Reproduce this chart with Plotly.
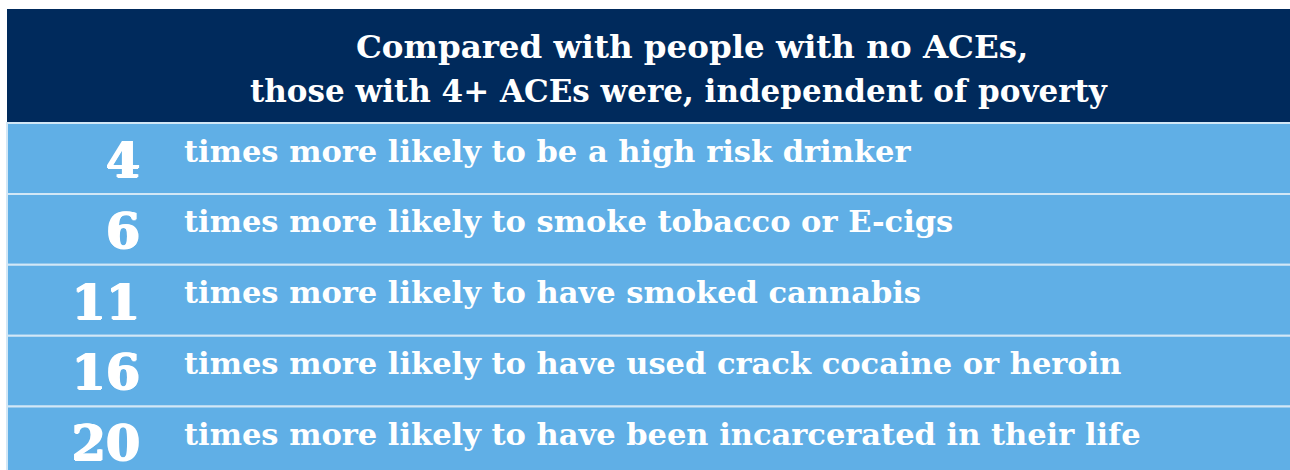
import plotly.graph_objects as go

# ---- data ----
multipliers = ["4", "6", "11", "16", "20"]
outcomes = [
    "times more likely to be a high risk drinker",
    "times more likely to smoke tobacco or E-cigs",
    "times more likely to have smoked cannabis",
    "times more likely to have used crack cocaine or heroin",
    "times more likely to have been incarcerated in their life",
]
header_lines = [
    "Compared with people with no ACEs,",
    "those with 4+ ACEs were, independent of poverty",
]

# ---- style / layout constants ----
W, H = 1290, 470
NAVY = "#002A5C"
LIGHT = "#60AFE6"
SEP = "#D2E7F6"
FONT = "DejaVu Serif"
LEFT = 7
HEAD_TOP, HEAD_BOT = 9, 123
ROW_H = 70.9

n = len(multipliers)
centers = [HEAD_BOT + ROW_H * (i + 0.5) for i in range(n)]

fig = go.Figure()

# header band
fig.add_trace(go.Bar(
    orientation="h", y=[(HEAD_TOP + HEAD_BOT) / 2], x=[W - LEFT + 10], base=[LEFT],
    width=[HEAD_BOT - HEAD_TOP], marker=dict(color=NAVY, line=dict(width=0)),
    hoverinfo="skip", showlegend=False,
))

# row bands
fig.add_trace(go.Bar(
    orientation="h", y=centers, x=[W - LEFT + 10] * n, base=[LEFT] * n,
    width=[ROW_H] * n, marker=dict(color=LIGHT, line=dict(color=SEP, width=2)),
    hoverinfo="skip", showlegend=False,
))

# numbers
fig.add_trace(go.Scatter(
    x=[140] * n, y=[c + 6 for c in centers], mode="text", text=multipliers,
    textposition="middle left",
    textfont=dict(family=FONT, size=49, color="white", weight="bold",
                  shadow="1px 0 0 white, -1px 0 0 white, 0 1px 0 white"),
    hoverinfo="skip", showlegend=False,
))

# descriptions
fig.add_trace(go.Scatter(
    x=[184] * n, y=[c - 4.5 for c in centers], mode="text", text=outcomes,
    textposition="middle right",
    textfont=dict(family=FONT, size=30.5, color="white", weight="bold"),
    hoverinfo="skip", showlegend=False,
))

# header text
for txt, xc, yc, fs in zip(header_lines, [692, 679], [46, 91], [32.5, 31]):
    fig.add_annotation(
        x=xc, y=yc, xref="x", yref="y", text=txt, showarrow=False,
        xanchor="center", yanchor="middle",
        font=dict(family=FONT, size=fs, color="white", weight="bold"),
    )

fig.update_layout(
    width=W, height=H, margin=dict(l=0, r=0, t=0, b=0),
    paper_bgcolor="white", plot_bgcolor="white", bargap=0,
    xaxis=dict(range=[0, W], visible=False, fixedrange=True),
    yaxis=dict(range=[H, 0], visible=False, fixedrange=True),
)

fig.write_html(
    "out.html",
    config={"displayModeBar": False, "staticPlot": True},
    post_script="document.body.style.margin='0';document.body.style.overflow='hidden';",
)
